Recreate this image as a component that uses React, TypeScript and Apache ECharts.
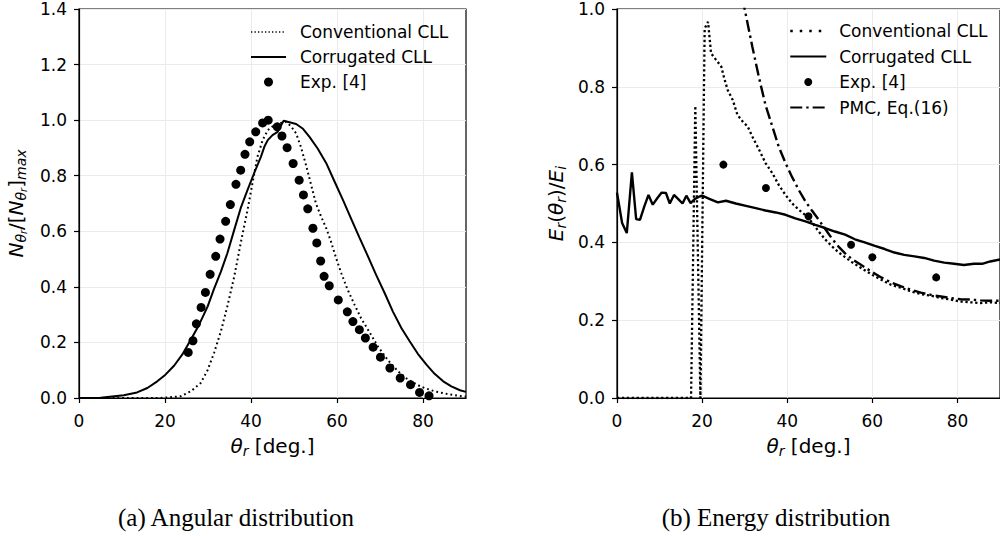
import React, { useEffect, useRef } from "react";
import * as echarts from "echarts";

// ---------- Data ----------
// (a) Angular distribution
const leftConvX = [0, 19, 23.6, 26.0, 28.3, 29.9, 31.4, 33.0, 34.5, 36.1, 37.6, 39.2, 40.4, 41.5, 42.7, 43.9, 45.4, 47.0, 48.1, 49.3, 50.5, 51.6, 52.8, 54.0, 55.1, 56.3, 57.5, 58.6, 59.8, 61.0, 62.5, 64.1, 65.6, 67.2, 69.5, 71.9, 74.2, 76.5, 79.6, 82.7, 85.8, 89.0, 90];
const leftConvY = [0, 0, 0.006, 0.024, 0.054, 0.10, 0.162, 0.24, 0.33, 0.437, 0.557, 0.677, 0.778, 0.868, 0.928, 0.964, 0.982, 0.99, 0.994, 0.978, 0.952, 0.904, 0.838, 0.766, 0.700, 0.653, 0.611, 0.563, 0.503, 0.449, 0.389, 0.335, 0.287, 0.246, 0.186, 0.135, 0.096, 0.066, 0.040, 0.024, 0.014, 0.006, 0.005];

const leftCorrX = [0, 5, 10.4, 13.5, 15.9, 18.2, 20.1, 22.1, 24.0, 26.0, 27.9, 29.9, 31.4, 33.0, 34.5, 36.1, 37.6, 39.2, 40.7, 42.3, 43.1, 43.9, 45.0, 46.2, 47.0, 47.6, 48.5, 50.5, 52.0, 53.6, 55.5, 57.5, 59.4, 61.4, 63.3, 65.2, 67.2, 69.1, 71.1, 73.0, 75.0, 76.9, 78.8, 80.8, 82.7, 84.7, 86.6, 88.6, 90];
const leftCorrY = [0, 0.001, 0.01, 0.02, 0.036, 0.06, 0.084, 0.116, 0.156, 0.21, 0.263, 0.329, 0.393, 0.455, 0.521, 0.605, 0.683, 0.749, 0.808, 0.868, 0.904, 0.928, 0.946, 0.958, 0.982, 0.998, 0.994, 0.986, 0.970, 0.940, 0.898, 0.845, 0.780, 0.712, 0.645, 0.578, 0.510, 0.443, 0.377, 0.311, 0.251, 0.204, 0.159, 0.120, 0.087, 0.060, 0.042, 0.028, 0.022];

const leftExpX = [25.4, 26.5, 27.3, 28.4, 29.4, 30.5, 31.8, 32.8, 34.1, 35.2, 36.5, 37.6, 38.6, 39.7, 41.1, 42.7, 44.0, 46.1, 47.2, 48.4, 49.8, 51.2, 52.2, 53.2, 54.4, 55.3, 56.2, 57.0, 58.2, 60.3, 62.4, 63.7, 65.2, 66.6, 68.4, 70.1, 72.3, 74.7, 77.1, 79.2, 81.4];
const leftExpY = [0.164, 0.206, 0.267, 0.326, 0.380, 0.445, 0.510, 0.572, 0.636, 0.696, 0.769, 0.820, 0.877, 0.922, 0.958, 0.990, 1.000, 0.976, 0.943, 0.901, 0.844, 0.784, 0.731, 0.681, 0.611, 0.558, 0.493, 0.438, 0.404, 0.353, 0.310, 0.275, 0.246, 0.216, 0.183, 0.147, 0.108, 0.072, 0.048, 0.020, 0.008];

// (b) Energy distribution
const rightConvX = [0, 17.4, 18.4, 19.6, 20.6, 21.4, 22.1, 23.3, 24.5, 25.2, 26.0, 27.2, 28.3, 29.5, 30.7, 31.8, 33.4, 34.9, 36.5, 38.0, 39.6, 41.1, 42.7, 44.3, 45.8, 47.4, 48.9, 50.5, 52.0, 53.6, 55.1, 57.5, 59.8, 62.1, 64.4, 66.8, 69.1, 71.4, 73.8, 76.1, 78.4, 80.7, 83.1, 85.4, 87.7, 90];
const rightConvY = [0, 0, 0.751, 0, 0.95, 0.967, 0.886, 0.869, 0.852, 0.822, 0.792, 0.766, 0.728, 0.711, 0.698, 0.672, 0.638, 0.604, 0.578, 0.548, 0.522, 0.501, 0.484, 0.470, 0.452, 0.428, 0.408, 0.390, 0.375, 0.362, 0.350, 0.333, 0.318, 0.304, 0.291, 0.283, 0.274, 0.267, 0.263, 0.257, 0.253, 0.248, 0.246, 0.244, 0.246, 0.244];

const rightCorrX = [0, 1.2, 2.3, 3.5, 4.5, 5.4, 6.4, 7.4, 8.4, 9.5, 10.5, 11.5, 12.4, 13.4, 14.4, 15.4, 16.3, 17.3, 18.2, 19.4, 20.0, 21.7, 23.7, 25.6, 27.9, 30.3, 32.6, 34.9, 37.3, 39.6, 41.9, 44.3, 46.6, 48.9, 51.2, 53.6, 55.9, 58.2, 60.6, 62.9, 65.2, 67.5, 69.9, 72.2, 74.5, 76.9, 79.2, 81.5, 83.9, 85.8, 87.7, 90];
const rightCorrY = [0.528, 0.45, 0.424, 0.58, 0.46, 0.458, 0.492, 0.522, 0.497, 0.514, 0.528, 0.527, 0.5, 0.522, 0.511, 0.5, 0.52, 0.501, 0.511, 0.518, 0.52, 0.512, 0.503, 0.507, 0.5, 0.494, 0.488, 0.482, 0.477, 0.471, 0.462, 0.454, 0.445, 0.437, 0.428, 0.42, 0.408, 0.4, 0.391, 0.383, 0.374, 0.368, 0.364, 0.36, 0.353, 0.348, 0.345, 0.342, 0.345, 0.345, 0.351, 0.356];

const rightExpX = [25, 35, 45, 55, 60, 75];
const rightExpY = [0.60, 0.54, 0.467, 0.394, 0.362, 0.31];

const rightPmcX = [28.5, 30.0, 31.8, 33.4, 34.9, 36.5, 38.0, 39.6, 41.1, 42.7, 44.3, 45.8, 47.4, 48.9, 50.5, 52.0, 53.6, 55.1, 57.5, 59.8, 62.1, 64.4, 66.8, 69.1, 71.4, 73.8, 76.1, 78.4, 80.7, 83.1, 85.4, 87.7, 90];
const rightPmcY = [1.085, 1.0, 0.903, 0.822, 0.753, 0.698, 0.646, 0.604, 0.569, 0.535, 0.505, 0.482, 0.458, 0.435, 0.41, 0.39, 0.372, 0.358, 0.341, 0.325, 0.31, 0.297, 0.287, 0.278, 0.271, 0.265, 0.261, 0.257, 0.254, 0.253, 0.251, 0.25, 0.25];

const xTicks = [0, 20, 40, 60, 80];
const leftYTicks = [0, 0.2, 0.4, 0.6, 0.8, 1.0, 1.2, 1.4];
const rightYTicks = [0, 0.2, 0.4, 0.6, 0.8, 1.0];

const captions = ["(a) Angular distribution", "(b) Energy distribution"];

// ---------- helpers ----------
const FONT = "DejaVu Sans";
const zip = (xs: number[], ys: number[]) => xs.map((x, i) => [x, ys[i]]);

const mathRich = {
  n: { fontFamily: FONT, fontStyle: "italic", fontSize: 20, lineHeight: 25, color: "#000" },
  t: { fontFamily: FONT, fontSize: 20, lineHeight: 25, color: "#000" },
  s: { fontFamily: FONT, fontStyle: "italic", fontSize: 14, lineHeight: 17, verticalAlign: "bottom", color: "#000" },
  ss: { fontFamily: FONT, fontStyle: "italic", fontSize: 10, lineHeight: 13, verticalAlign: "bottom", color: "#000" },
};

function xAxis(gridIndex: number) {
  return {
    type: "value",
    gridIndex,
    min: 0,
    max: 90,
    interval: 20,
    axisLine: { show: true, onZero: false, lineStyle: { color: "#000", width: 1.2 } },
    axisTick: { show: true, inside: false, length: 5, lineStyle: { color: "#000", width: 1.2 }, customValues: xTicks },
    axisLabel: { color: "#000", fontSize: 17, fontFamily: FONT, margin: 14, customValues: xTicks },
    splitLine: { show: true, lineStyle: { color: "#ebebeb", width: 1 } },
    name: "{n|θ}{s|r}{t| [deg.]}",
    nameLocation: "middle",
    nameGap: 35,
    nameTextStyle: { fontFamily: FONT, fontSize: 20, color: "#000", rich: mathRich },
  };
}

function yAxis(gridIndex: number, max: number, ticks: number[], name: string, gap: number) {
  return {
    type: "value",
    gridIndex,
    min: 0,
    max,
    interval: 0.2,
    axisLine: { show: true, onZero: false, lineStyle: { color: "#000", width: 1.2 } },
    axisTick: { show: true, inside: false, length: 5, lineStyle: { color: "#000", width: 1.2 }, customValues: ticks },
    axisLabel: {
      color: "#000",
      fontSize: 17,
      fontFamily: FONT,
      margin: 12,
      customValues: ticks,
      formatter: (v: number) => v.toFixed(1),
    },
    splitLine: { show: true, lineStyle: { color: "#ebebeb", width: 1 } },
    name,
    nameLocation: "middle",
    nameGap: gap,
    nameRotate: 90,
    nameTextStyle: { fontFamily: FONT, fontSize: 20, color: "#000", rich: mathRich },
  };
}

function lineSeries(name: string, xs: number[], ys: number[], idx: number, width: number, type: any) {
  return {
    name,
    type: "line",
    xAxisIndex: idx,
    yAxisIndex: idx,
    data: zip(xs, ys),
    symbol: "none",
    showSymbol: false,
    clip: true,
    color: "#000",
    itemStyle: { color: "#000" },
    lineStyle: { color: "#000", width, type },
    z: 3,
  };
}

function scatterSeries(name: string, xs: number[], ys: number[], idx: number, size: number) {
  return {
    name,
    type: "scatter",
    xAxisIndex: idx,
    yAxisIndex: idx,
    data: zip(xs, ys),
    symbol: "circle",
    symbolSize: size,
    color: "#000",
    itemStyle: { color: "#000", opacity: 1 },
    z: 4,
  };
}

const legendText = { color: "#000", fontSize: 17, fontFamily: FONT, lineHeight: 20 };
const hideSym = { opacity: 0 };

export default function App() {
  const ref = useRef<HTMLDivElement>(null);

  useEffect(() => {
    if (!ref.current) return;
    const chart = echarts.init(ref.current, undefined, { renderer: "svg" });

    const option: any = {
      animation: false,
      backgroundColor: "#fff",
      color: ["#000"],
      textStyle: { fontFamily: FONT },
      grid: [
        { left: 79, top: 9, width: 387, height: 389, show: true, borderColor: "#000", borderWidth: 1.2, backgroundColor: "transparent" },
        { left: 617, top: 9, width: 387, height: 389, show: true, borderColor: "#000", borderWidth: 1.2, backgroundColor: "transparent" },
      ],
      xAxis: [xAxis(0), xAxis(1)],
      yAxis: [
        yAxis(0, 1.4, leftYTicks, "{n|N}{s|θ}{ss|r}{t|/[}{n|N}{s|θ}{ss|r}{t|]}{s|max}", 51),
        yAxis(1, 1.0, rightYTicks, "{n|E}{s|r}{t|(}{n|θ}{s|r}{t|)/}{n|E}{s|i}", 49),
      ],
      legend: [
        {
          orient: "vertical",
          left: 245,
          top: 17,
          itemWidth: 35,
          itemHeight: 9,
          itemGap: 5,
          data: [
            { name: "Conventional CLL", itemStyle: hideSym, lineStyle: { width: 1.5, type: [1.3, 2.2] } },
            { name: "Corrugated CLL", itemStyle: hideSym },
            { name: "Exp. [4]" },
          ],
          textStyle: { ...legendText, padding: [0, 0, 0, 9] },
          selectedMode: false,
        },
        {
          orient: "vertical",
          left: 784,
          top: 16,
          itemWidth: 36,
          itemHeight: 8,
          itemGap: 5.5,
          data: [
            { name: "Conventional CLL ", itemStyle: hideSym, lineStyle: { width: 2.5, type: [2.5, 7] } },
            { name: "Corrugated CLL ", itemStyle: hideSym },
            { name: "Exp. [4] " },
            { name: "PMC, Eq.(16)", itemStyle: hideSym },
          ],
          formatter: (n: string) => n.trim(),
          textStyle: { ...legendText, padding: [0, 0, 0, 8] },
          selectedMode: false,
        },
      ],
      series: [
        lineSeries("Conventional CLL", leftConvX, leftConvY, 0, 2, [1.8, 3]),
        lineSeries("Corrugated CLL", leftCorrX, leftCorrY, 0, 2, "solid"),
        scatterSeries("Exp. [4]", leftExpX, leftExpY, 0, 9),
        lineSeries("Conventional CLL ", rightConvX, rightConvY, 1, 2.3, [2.3, 2.6]),
        lineSeries("Corrugated CLL ", rightCorrX, rightCorrY, 1, 2.4, "solid"),
        scatterSeries("Exp. [4] ", rightExpX, rightExpY, 1, 8),
        lineSeries("PMC, Eq.(16)", rightPmcX, rightPmcY, 1, 2.4, [12, 4, 2.4, 4]),
      ],
      graphic: [
        {
          type: "text",
          x: 236,
          y: 517,
          style: {
            text: captions[0],
            font: '25px "Liberation Serif", serif',
            fill: "#000",
            align: "center",
            verticalAlign: "middle",
          },
        },
        {
          type: "text",
          x: 776,
          y: 517,
          style: {
            text: captions[1],
            font: '25px "Liberation Serif", serif',
            fill: "#000",
            align: "center",
            verticalAlign: "middle",
          },
        },
      ],
    };

    chart.setOption(option);
    return () => chart.dispose();
  }, []);

  return (
    <div
      ref={ref}
      style={{ position: "absolute", left: 0, top: 0, width: 1000, height: 536, background: "#fff" }}
    />
  );
}
